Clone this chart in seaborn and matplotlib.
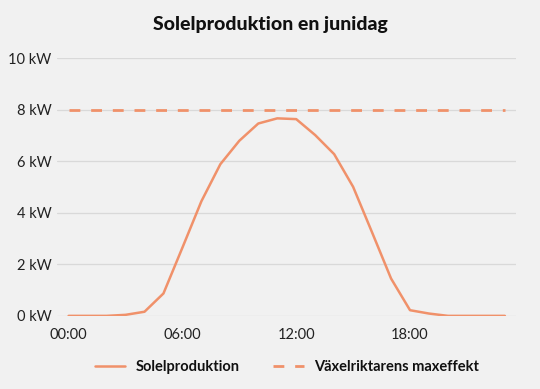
import matplotlib
matplotlib.use("Agg")
import matplotlib.pyplot as plt
import pandas as pd
import seaborn as sns

hours = list(range(24))
production_kw = [0.0, 0.0, 0.0, 0.04, 0.16, 0.87, 2.65, 4.45, 5.89, 6.8, 7.47, 7.67,
                 7.64, 7.02, 6.28, 5.01, 3.24, 1.45, 0.22, 0.09, 0.0, 0.0, 0.0, 0.0]
inverter_max_kw = [8.0] * 24
tick_hours = [0, 6, 12, 18]
tick_labels = ["00:00", "06:00", "12:00", "18:00"]
y_ticks = [0, 2, 4, 6, 8, 10]

df = pd.DataFrame({"hour": hours, "Solelproduktion": production_kw,
                   "Växelriktarens maxeffekt": inverter_max_kw})

sns.set_theme(style="white")
plt.rcParams["font.family"] = ["Lato", "DejaVu Sans"]
BG = "#f1f1f1"
COLOR = "#f0916a"

fig = plt.figure(figsize=(5.4, 3.89), dpi=100, facecolor=BG)
ax = fig.add_axes([0.106, 0.188, 0.85, 0.662])
ax.set_facecolor(BG)

sns.lineplot(data=df, x="hour", y="Solelproduktion", ax=ax, color=COLOR,
             linewidth=1.8, label="Solelproduktion")
sns.lineplot(data=df, x="hour", y="Växelriktarens maxeffekt", ax=ax, color=COLOR,
             linewidth=2.0, linestyle=(0, (3.9, 3.9)), label="Växelriktarens maxeffekt")

ax.set_xlim(-0.6, 23.6)
ax.set_ylim(0, 10)
ax.set_xticks(tick_hours)
ax.set_xticklabels(tick_labels)
ax.set_yticks(y_ticks)
ax.set_yticklabels([f"{v} kW" for v in y_ticks])
ax.tick_params(axis="y", length=0, labelsize=10.5, colors="#222222", pad=4)
ax.tick_params(axis="x", length=0, labelsize=10.5, colors="#222222", pad=9)
ax.yaxis.grid(True, color="#d9d9d9", linewidth=0.9)
ax.set_axisbelow(True)
ax.set_xlabel("")
ax.set_ylabel("")
sns.despine(ax=ax, left=True, bottom=True)

fig.suptitle("Solelproduktion en junidag", x=0.5, y=0.96, fontsize=14,
             fontweight="black", color="#111111")

leg = ax.legend(loc="upper center", bbox_to_anchor=(0.5, -0.12), ncol=2,
                frameon=False, handlelength=2.1, handletextpad=0.7,
                columnspacing=2.3, prop={"weight": "bold", "size": 10.5})
for t in leg.get_texts():
    t.set_color("#111111")

fig.savefig("out.png", dpi=100, facecolor=BG)
